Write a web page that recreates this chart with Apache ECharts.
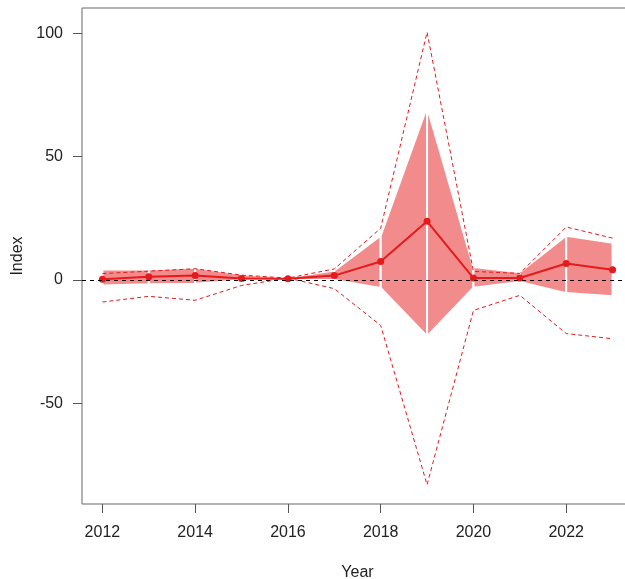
<!DOCTYPE html>
<html>
<head>
<meta charset="utf-8">
<script src="https://cdn.jsdelivr.net/npm/echarts@6/dist/echarts.min.js"></script>
<style>
  html, body { margin: 0; padding: 0; background: #fff; }
  #chart { width: 625px; height: 579px; }
</style>
</head>
<body>
<div id="chart"></div>
<script>
// values
const years = [2012, 2013, 2014, 2015, 2016, 2017, 2018, 2019, 2020, 2021, 2022, 2023];
const indexValues = [0.3, 1.3, 1.8, 0.6, 0.5, 1.8, 7.5, 23.8, 0.8, 0.8, 6.7, 4.2];
const bandHigh = [4.3, 4.3, 5.0, 2.3, 1.0, 3.9, 18.0, 70.2, 5.3, 3.2, 18.0, 15.1];
const bandLow = [-2.2, -1.7, -1.5, -0.1, 0.0, 0.0, -3.2, -22.8, -3.1, -0.8, -5.3, -6.6];
const upperLine = [2.6, 3.6, 4.6, 2.0, 0.8, 4.5, 21.0, 100.5, 3.5, 2.7, 21.5, 17.0];
const lowerLine = [-8.9, -6.6, -8.2, -2.2, 0.8, -3.5, -18.4, -83.0, -12.3, -6.2, -21.7, -23.8];
const xTicks = [2012, 2014, 2016, 2018, 2020, 2022];
const yTicks = [-50, 0, 50, 100];

const red = '#E41A1C';
const font = 'Liberation Sans, Arial, sans-serif';

const pairs = arr => years.map((y, i) => [y, arr[i]]);

// one polygon per year-to-year segment, white edges like the original
const segments = years.slice(0, -1).map((y, i) => [y, years[i + 1], i]);

const myChart = echarts.init(document.getElementById('chart'), null, { renderer: 'canvas' });

const option = {
  backgroundColor: '#fff',
  animation: false,
  grid: {
    left: 82,
    top: 8,
    right: -8,
    bottom: 75,
    outerBoundsMode: 'none',
    containLabel: false,
    show: true,
    borderColor: '#666',
    borderWidth: 1,
  },
  xAxis: {
    type: 'value',
    min: 2011.56,
    max: 2023.44,
    name: 'Year',
    nameLocation: 'middle',
    nameGap: 61,
    nameTextStyle: { color: '#222', fontSize: 16, fontFamily: font },
    axisLine: { show: false, onZero: false },
    splitLine: { show: false },
    axisTick: {
      show: true,
      length: 9,
      customValues: xTicks,
      lineStyle: { color: '#555' },
    },
    axisLabel: {
      customValues: xTicks,
      formatter: v => String(v),
      margin: 21,
      color: '#222',
      fontSize: 16,
      fontFamily: font,
    },
  },
  yAxis: {
    type: 'value',
    min: -90.8,
    max: 110.3,
    name: 'Index',
    nameLocation: 'middle',
    nameRotate: 90,
    nameGap: 54,
    nameTextStyle: { color: '#222', fontSize: 16, fontFamily: font },
    axisLine: { show: false, onZero: false },
    splitLine: { show: false },
    axisTick: {
      show: true,
      length: 9,
      customValues: yTicks,
      lineStyle: { color: '#555' },
    },
    axisLabel: {
      customValues: yTicks,
      formatter: v => String(v),
      margin: 19,
      color: '#222',
      fontSize: 16,
      fontFamily: font,
    },
  },
  series: [
    {
      type: 'custom',
      z: 1,
      data: segments,
      renderItem: (params, api) => {
        const i = api.value(2);
        const a = api.coord([years[i], bandHigh[i]]);
        const b = api.coord([years[i + 1], bandHigh[i + 1]]);
        const c = api.coord([years[i + 1], bandLow[i + 1]]);
        const d = api.coord([years[i], bandLow[i]]);
        return {
          type: 'polygon',
          shape: { points: [a, b, c, d] },
          style: { fill: '#F28B8B', stroke: '#fff', lineWidth: 2 },
        };
      },
      silent: true,
    },
    {
      type: 'line',
      z: 2,
      data: pairs(upperLine),
      showSymbol: false,
      lineStyle: { color: red, width: 1, type: [4, 3] },
      silent: true,
    },
    {
      type: 'line',
      z: 2,
      data: pairs(lowerLine),
      showSymbol: false,
      lineStyle: { color: red, width: 1, type: [4, 3] },
      silent: true,
      markLine: {
        silent: true,
        symbol: 'none',
        label: { show: false },
        lineStyle: { color: '#000', width: 1, type: [4, 4] },
        data: [{ yAxis: 0 }],
      },
    },
    {
      type: 'line',
      z: 3,
      data: pairs(indexValues),
      symbol: 'circle',
      symbolSize: 7,
      itemStyle: { color: red },
      lineStyle: { color: red, width: 2 },
      silent: true,
    },
  ],
};

myChart.setOption(option);
</script>
</body>
</html>
